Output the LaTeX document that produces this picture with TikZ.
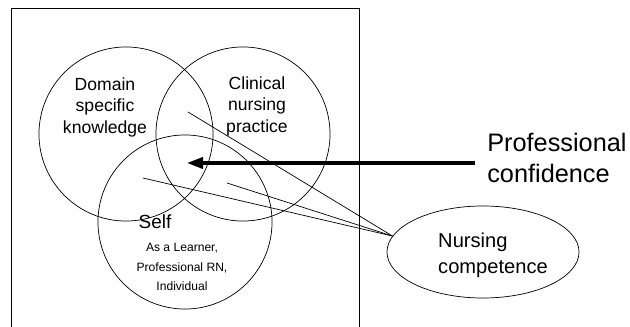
\documentclass[tikz,border=0pt]{standalone}
\usepackage{fontspec}
\setmainfont{Liberation Sans}
\usetikzlibrary{shapes.geometric,arrows.meta}

\begin{document}
\begin{tikzpicture}[x=0.025cm,y=-0.025cm,
		ring/.style={circle,draw=black,line width=0.5pt,minimum size=4.35cm,inner sep=0pt},
		ringtext/.style={align=center,font=\fontsize{12.5}{15.3}\selectfont},
		thinline/.style={draw=black,line width=0.5pt}]
		\useasboundingbox (0,0) rectangle (630,327);

		% frame, open at the bottom
		\draw[thinline] (11,327) -- (11,8) -- (359,8) -- (359,327);

		\node[ring] (domain) at (126,134) {};
		\node[ring] (clinical) at (243,134) {};
		\node[ring] (self) at (185,222) {};
		\node[ellipse,draw=black,line width=0.5pt,minimum width=4.8cm,minimum height=2.3cm,inner sep=0pt] (competence) at (483,252) {};

		\node[ringtext] (domaintext) at (105,107) {Domain\\specific\\knowledge};
		\node[ringtext] (clinicaltext) at (257,106) {Clinical\\nursing\\practice};
		\node[font=\fontsize{13.5}{16}\selectfont] (selftext) at (155,222) {Self};
		\node[align=center,font=\fontsize{8.6}{13.8}\selectfont] (roles) at (182,267) {As a Learner,\\Professional RN,\\Individual};
		\node[align=left,font=\fontsize{14.3}{18.4}\selectfont] (competencetext) at (493,255) {Nursing\\competence};
		\node[align=left,anchor=west,inner sep=0.3cm,font=\fontsize{18}{21.6}\selectfont] (confidence) at (475,158) {Professional\\confidence};

		\coordinate (core) at (187,163);
		\coordinate (p1) at (188,112);
		\coordinate (p2) at (143,178);
		\coordinate (p3) at (227,183);

		\draw[line width=2.3pt,-{Triangle[length=0.4cm,width=0.28cm]}] (confidence.west |- core) -- (core);

		\draw[thinline] (competence.170) -- (p1);
		\draw[thinline] (competence.170) -- (p2);
		\draw[thinline] (competence.170) -- (p3);
	\end{tikzpicture}
\end{document}
